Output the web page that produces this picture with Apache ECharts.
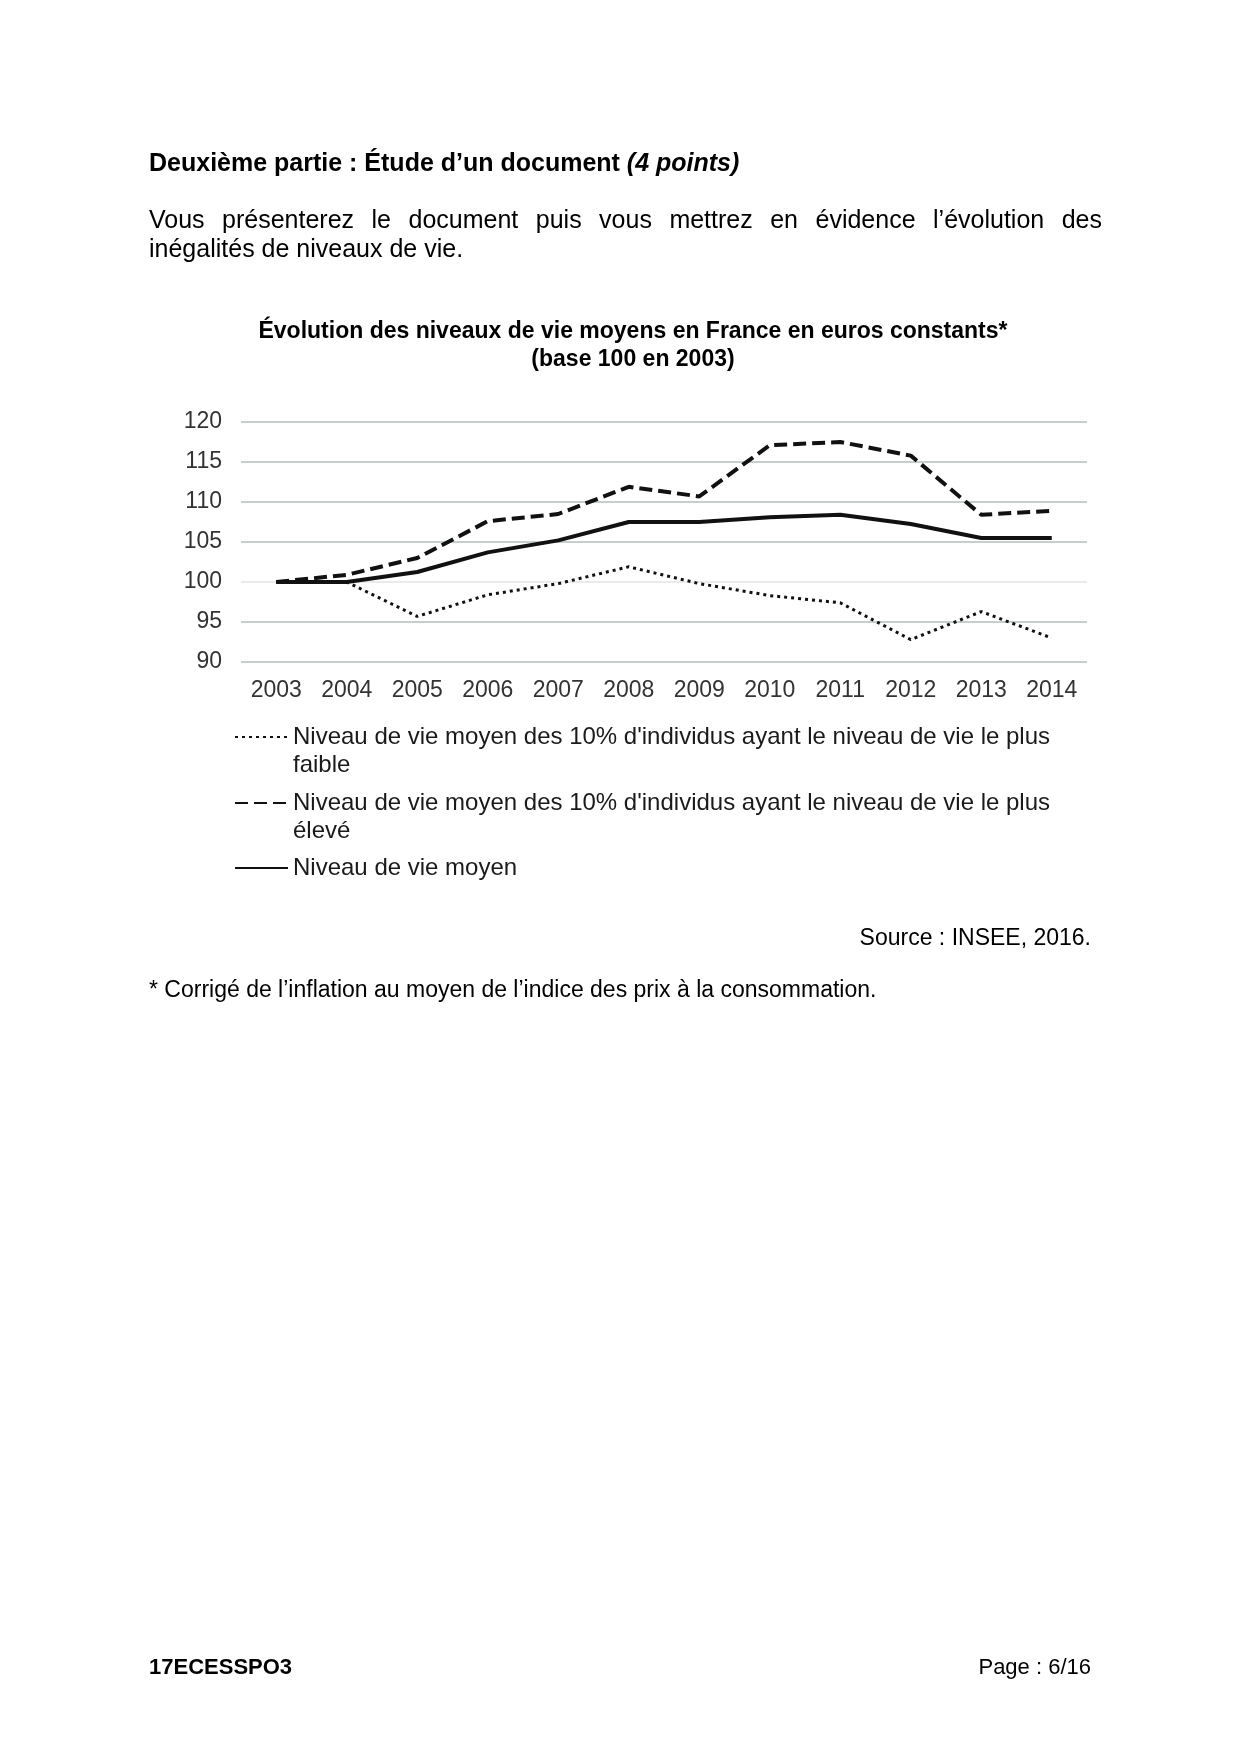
<!DOCTYPE html>
<html><head><meta charset="utf-8">
<script src="https://cdn.jsdelivr.net/npm/echarts@6/dist/echarts.min.js"></script>
<style>html,body{margin:0;padding:0;background:#fff}#c{width:1240px;height:1754px}</style>
</head><body><div id="c"></div>
<script>
const years = ['2003','2004','2005','2006','2007','2008','2009','2010','2011','2012','2013','2014'];
const yTicks = [90,95,100,105,110,115,120];
const nameLow = "Niveau de vie moyen des 10% d'individus ayant le niveau de vie le plus faible";
const nameHigh = "Niveau de vie moyen des 10% d'individus ayant le niveau de vie le plus élevé";
const nameMean = "Niveau de vie moyen";
const lowValues  = [100, 100, 95.7, 98.4, 99.8, 101.9, 99.8, 98.3, 97.4, 92.8, 96.3, 93.0];
const highValues = [100, 100.9, 103.0, 107.6, 108.5, 111.9, 110.7, 117.1, 117.5, 115.8, 108.4, 108.9];
const meanValues = [100, 100, 101.25, 103.7, 105.2, 107.5, 107.5, 108.1, 108.4, 107.25, 105.5, 105.5];

const FONT = '"Liberation Sans", Arial, sans-serif';
const chart = echarts.init(document.getElementById('c'), null, {renderer: 'canvas'});

// justified paragraph line
const ctx = document.createElement('canvas').getContext('2d');
ctx.font = '25px "Liberation Sans"';
const justLine = "Vous présenterez le document puis vous mettrez en évidence l’évolution des";
const words = justLine.split(' ');
const x0 = 149, x1 = 1102;
const widths = words.map(w => ctx.measureText(w).width);
const total = widths.reduce((a,b)=>a+b,0);
const gap = (x1 - x0 - total) / (words.length - 1);
const justGraphics = [];
let cx = x0;
words.forEach((w,i) => {
  justGraphics.push({type:'text', left: cx, top: 209, style:{text: w, font: '25px ' + FONT, fill:'#000'}});
  cx += widths[i] + gap;
});

const gridColors = ['#b3bfb8','#b3bfb8','#e2e6e3','#b3bfb8','#b3bfb8','#b3bfb8','#b3bfb8'];
const legText = {fontFamily: FONT, fontSize: 24, color: '#1a1a1a', lineHeight: 28};
const wrap2 = n => '\n' + n.replace(' le plus ', ' le plus\n');
const T = (o) => Object.assign({padding: 0}, o);

chart.setOption({
  animation: false,
  title: [
    T({text: 'Deuxième partie : Étude d’un document {i|(4 points)}', left: 149, top: 152,
     textStyle: {fontFamily: FONT, fontSize: 25, fontWeight: 'bold', color: '#000',
       rich: {i: {fontFamily: FONT, fontSize: 25, fontWeight: 'bold', fontStyle: 'italic', color:'#000'}}}}),
    T({text: 'inégalités de niveaux de vie.', left: 149, top: 238,
     textStyle: {fontFamily: FONT, fontSize: 25, fontWeight: 'normal', color: '#000'}}),
    T({text: 'Évolution des niveaux de vie moyens en France en euros constants*\n(base 100 en 2003)',
     left: 633, textAlign: 'center', top: 318,
     textStyle: {fontFamily: FONT, fontSize: 23, fontWeight: 'bold', color: '#000', lineHeight: 28}}),
    T({text: 'Source : INSEE, 2016.', right: 149, top: 927,
     textStyle: {fontFamily: FONT, fontSize: 23, fontWeight: 'normal', color: '#000'}}),
    T({text: '* Corrigé de l’inflation au moyen de l’indice des prix à la consommation.', left: 149, top: 979,
     textStyle: {fontFamily: FONT, fontSize: 23, fontWeight: 'normal', color: '#000'}}),
    T({text: '17ECESSPO3', left: 149, top: 1657,
     textStyle: {fontFamily: FONT, fontSize: 22, fontWeight: 'bold', color: '#000'}}),
    T({text: 'Page : 6/16', right: 149, top: 1657,
     textStyle: {fontFamily: FONT, fontSize: 22, fontWeight: 'normal', color: '#000'}})
  ],
  graphic: justGraphics,
  grid: {left: 241, right: 153, top: 422, bottom: 1092, containLabel: false},
  xAxis: {type: 'category', data: years, boundaryGap: true,
    axisLine: {show: false}, axisTick: {show: false},
    axisLabel: {fontFamily: FONT, fontSize: 23, color: '#333', margin: 17}},
  yAxis: {type: 'value', min: 90, max: 120, interval: 5,
    axisLine: {show: false}, axisTick: {show: false},
    axisLabel: {fontFamily: FONT, fontSize: 23, color: '#333', margin: 19, padding: [3, 0, 0, 0],
      formatter: v => yTicks.includes(v) ? String(v) : ''},
    splitLine: {lineStyle: {color: gridColors, width: 1.5}}},
  legend: [
    {data: [nameLow], orient: 'vertical', left: 234, top: 695, padding: 0,
     itemWidth: 53, itemHeight: 14, itemGap: 5, formatter: wrap2, textStyle: legText, itemStyle: {opacity: 0}},
    {data: [nameHigh], orient: 'vertical', left: 234, top: 761, padding: 0,
     itemWidth: 53, itemHeight: 14, itemGap: 5, formatter: wrap2, textStyle: legText, itemStyle: {opacity: 0}},
    {data: [nameMean], orient: 'vertical', left: 234, top: 854, padding: 0,
     itemWidth: 53, itemHeight: 14, itemGap: 5, textStyle: legText, itemStyle: {opacity: 0}}
  ],
  series: [
    {name: nameLow, type: 'line', data: lowValues, symbol: 'none',
     lineStyle: {color: '#111', width: 3, type: [3, 4]}, itemStyle: {color: '#111'}},
    {name: nameHigh, type: 'line', data: highValues, symbol: 'none',
     lineStyle: {color: '#111', width: 4, type: [13, 6]}, itemStyle: {color: '#111'}},
    {name: nameMean, type: 'line', data: meanValues, symbol: 'none',
     lineStyle: {color: '#111', width: 4, type: 'solid'}, itemStyle: {color: '#111'}}
  ]
});
</script></body></html>
